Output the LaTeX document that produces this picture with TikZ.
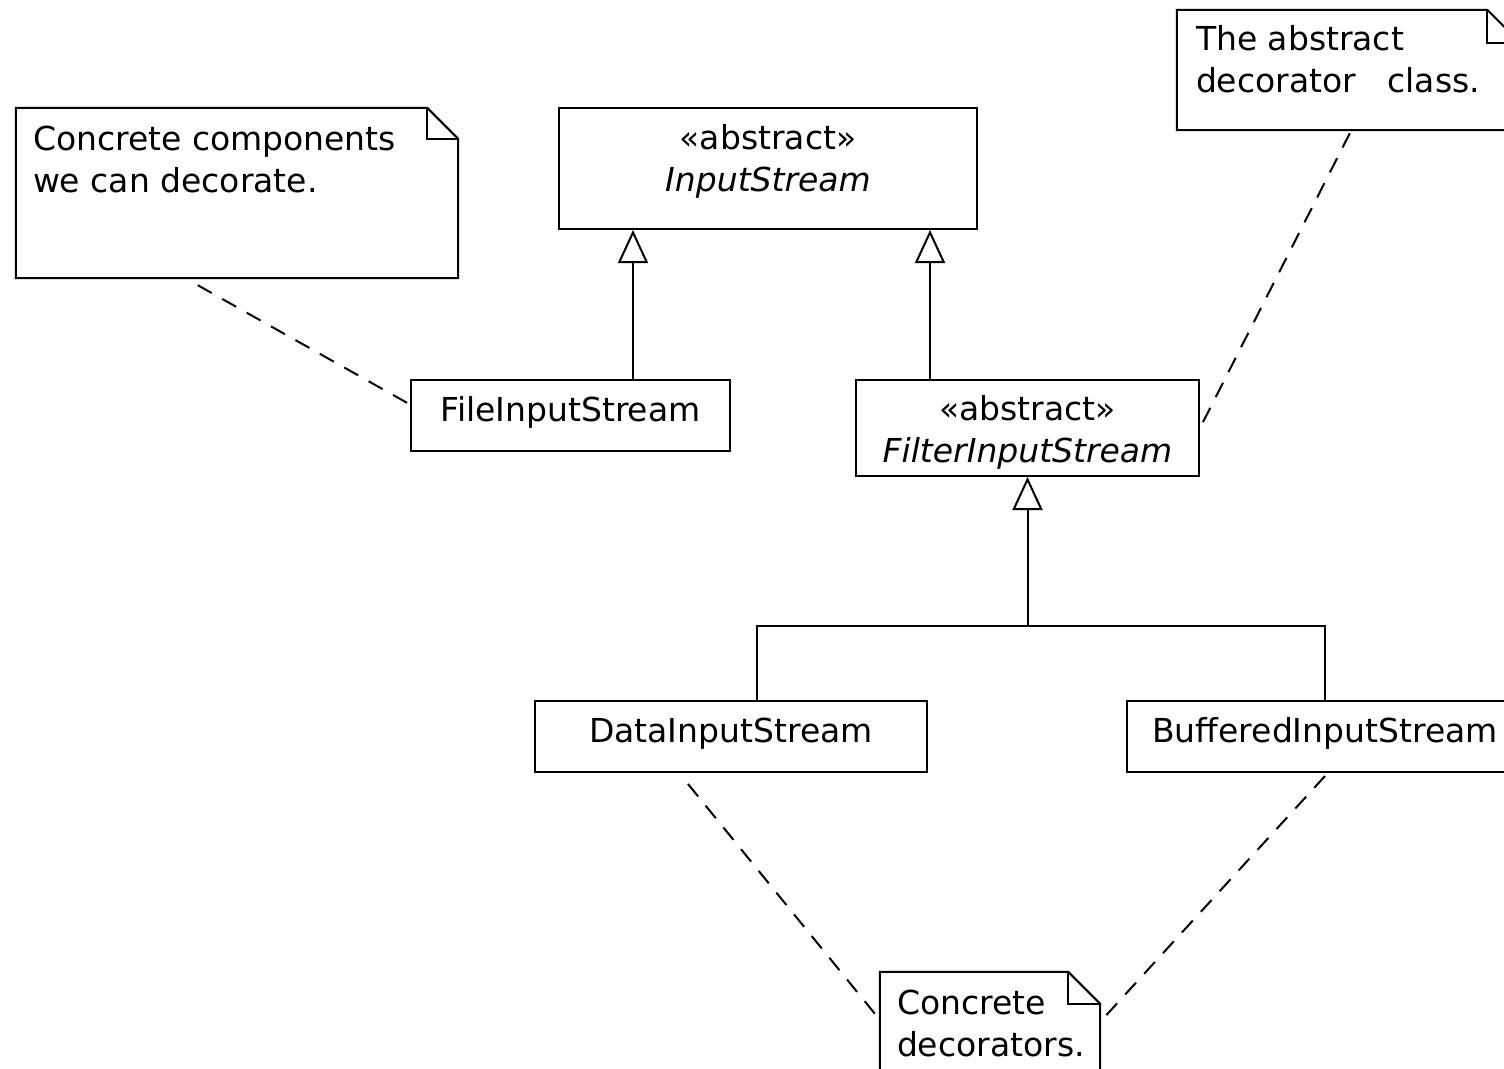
\documentclass[tikz,border=0pt]{standalone}
\usepackage{fontspec}
\setmainfont{DejaVu Sans}
\usetikzlibrary{arrows.meta,calc}

\tikzset{
  umltext/.style={font=\fontsize{33}{42}\selectfont, inner sep=0pt, text height=0.76em, text depth=0.24em},
  classbox/.style={draw, line width=2pt, rectangle, inner sep=0pt, fill=white},
  notearea/.style={rectangle, inner sep=0pt},
  notetext/.style={font=\fontsize{33}{42}\selectfont, inner sep=0pt, align=left, anchor=north west},
  gen/.style={line width=2pt, -{Triangle[open, width=30pt, length=33pt]}},
  tree/.style={line width=2pt},
  anchorline/.style={line width=2pt, dash pattern=on 16pt off 12pt},
}

% folded-corner outline around a note area
\newcommand{\umlnote}[2]{%
  \draw[line width=2pt, fill=white] (#1.north west) -- ([xshift=-#2]#1.north east)
    -- ([yshift=-#2]#1.north east) -- (#1.south east) -- (#1.south west) -- cycle;
  \draw[line width=2pt] ([xshift=-#2]#1.north east) |- ([yshift=-#2]#1.north east);
}

\begin{document}
\begin{tikzpicture}[x=1pt, y=-1pt]
  \useasboundingbox (0,0) rectangle (1504,1068);
  \clip (0,0) rectangle (1504,1068);
  \fill[white] (0,0) rectangle (1504,1068);

  % class boxes
  \node[classbox, minimum width=418pt, minimum height=121pt,
        label={[umltext, yshift=22pt]center:{«abstract»}},
        label={[umltext, yshift=-20pt]center:{\itshape InputStream}}]
        (is) at (768,168.5) {};
  \node[classbox, minimum width=319pt, minimum height=71pt,
        label={[umltext, yshift=-3pt]center:{FileInputStream}}]
        (fis) at (570.5,415.5) {};
  \node[classbox, minimum width=343pt, minimum height=96pt,
        label={[umltext, yshift=10.5pt]center:{«abstract»}},
        label={[umltext, yshift=-31.5pt]center:{\itshape FilterInputStream}}]
        (fil) at (1027.5,428) {};
  \node[classbox, minimum width=392pt, minimum height=71pt,
        label={[umltext, yshift=-3pt]center:{DataInputStream}}]
        (dis) at (731,736.5) {};
  \node[classbox, minimum width=396pt, minimum height=71pt,
        label={[umltext, yshift=-3pt]center:{BufferedInputStream}}]
        (bis) at (1325,736.5) {};

  % note areas
  \node[notearea, minimum width=442pt, minimum height=170pt] (n1) at (237,193) {};
  \node[notearea, minimum width=343pt, minimum height=120pt] (n2) at (1348.5,70) {};
  \node[notearea, minimum width=220pt, minimum height=128pt] (n3) at (990,1036) {};
  \umlnote{n1}{31pt}
  \umlnote{n2}{33pt}
  \umlnote{n3}{32pt}
  \node[notetext] (t1) at ([shift={(17pt,-18pt)}]n1.north west)
        {Concrete components\\we can decorate.};
  \node[notetext] (t2) at ([shift={(19pt,-15pt)}]n2.north west)
        {The abstract\\decorator\ \ \ class.};
  \node[notetext] (t3) at ([shift={(17pt,-18pt)}]n3.north west)
        {Concrete\\decorators.};

  % generalisations
  \draw[gen] ([xshift=62.5pt]fis.north) -- ([xshift=62.5pt]fis.north |- is.south);
  \draw[gen] ([xshift=-97.5pt]fil.north) -- ([xshift=-97.5pt]fil.north |- is.south);
  \coordinate (bus) at ([yshift=74pt]bis.north);
  \draw[tree] ([xshift=26pt]dis.north) |- (bus) -- (bis.north);
  \draw[gen] (fil.south |- bus) -- (fil.south);

  % note anchors
  \draw[anchorline] ([shift={(182pt,-7pt)}]n1.south west) -- ([yshift=11pt]fis.west);
  \draw[anchorline] ([shift={(173pt,-3pt)}]n2.south west) -- (fil.east);
  \draw[anchorline] ([shift={(-43pt,-11pt)}]dis.south) -- ([yshift=-48pt]n3.north west);
  \draw[anchorline] ([yshift=-3pt]bis.south) -- ([yshift=-50pt]n3.north east);
\end{tikzpicture}
\end{document}
